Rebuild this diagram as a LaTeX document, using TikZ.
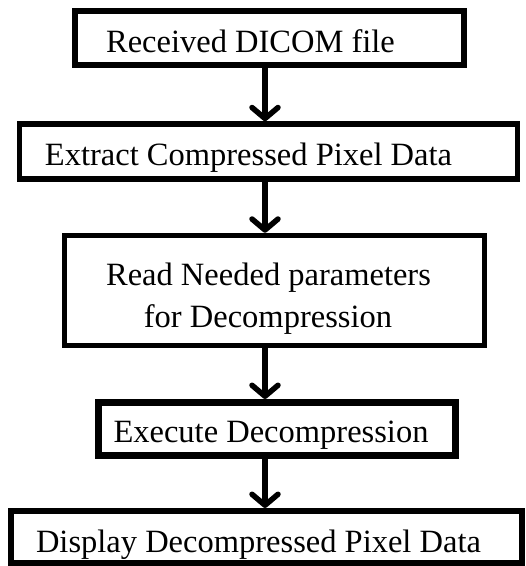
\documentclass[tikz,border=0pt]{standalone}
\usepackage{fontspec}
\setmainfont{Liberation Serif}
\usetikzlibrary{arrows.meta}
\tikzset{
  box/.style={draw=black, fill=none, inner sep=0pt, rectangle},
  lab/.style={anchor=base, inner sep=0pt, font=\fontsize{32.5}{39}\selectfont},
  arr/.style={line width=5.5pt, -{Straight Barb[length=11pt,width=26pt,line width=5.5pt,round]}}
}
\begin{document}
\begin{tikzpicture}[x=1pt,y=-1pt]
\useasboundingbox[fill=white] (0,0) rectangle (526,566);
\node[box, line width=6.5pt, minimum width=389pt, minimum height=54pt] (b1) at (269.5,38) {};
\node[box, line width=5.5pt, minimum width=498pt, minimum height=55pt] (b2) at (268.5,151.5) {};
\node[box, line width=5.5pt, minimum width=420pt, minimum height=110pt] (b3) at (274.5,290.5) {};
\node[box, line width=7pt, minimum width=357pt, minimum height=53pt] (b4) at (277,429) {};
\node[box, line width=6pt, minimum width=511pt, minimum height=52pt] (b5) at (266.5,537) {};
\node[lab] (t1) at (250.5,52) {Received DICOM file};
\node[lab] (t2) at (248.5,165) {Extract Compressed Pixel Data};
\node[lab] (t3a) at (268.5,285) {Read Needed parameters};
\node[lab] (t3b) at (268,327) {for Decompression};
\node[lab] (t4) at (271,442) {Execute Decompression};
\node[lab] (t5) at (258.5,552) {Display Decompressed Pixel Data};
\coordinate (ax) at (265,0);
\draw[arr] (b1.south -| ax) -- (b2.north -| ax);
\draw[arr] (b2.south -| ax) -- (b3.north -| ax);
\draw[arr] (b3.south -| ax) -- (b4.north -| ax);
\draw[arr] (b4.south -| ax) -- (b5.north -| ax);
\end{tikzpicture}
\end{document}
